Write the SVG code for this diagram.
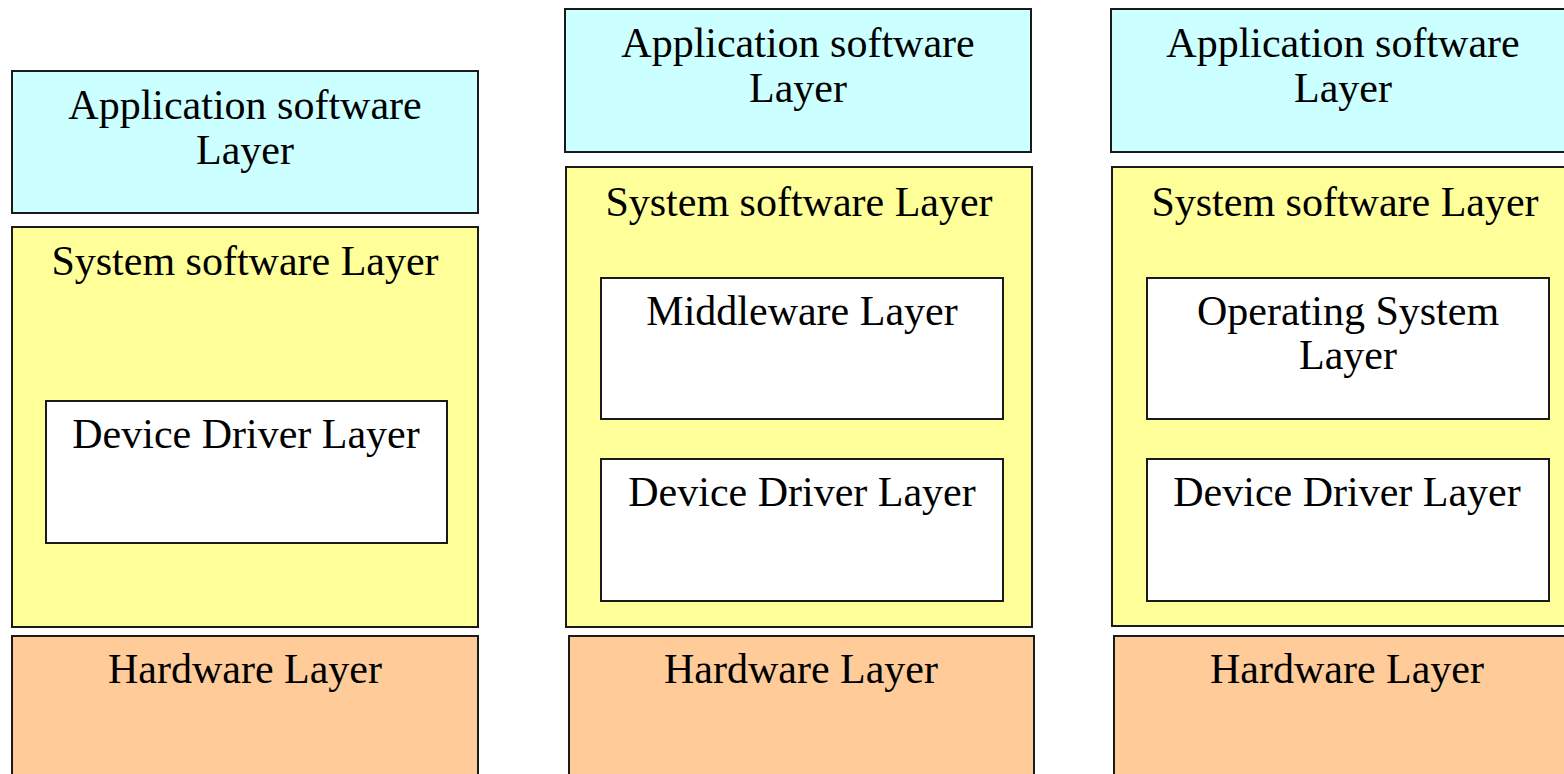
<svg xmlns="http://www.w3.org/2000/svg" width="1564" height="774" viewBox="0 0 1564 774">
<style>
rect{stroke:#1a1a1a;stroke-width:2}
.app{fill:#CCFFFF}
.sys{fill:#FFFF99}
.hw{fill:#FFCC99}
.in{fill:#FFFFFF}
text{font-family:"Liberation Serif","Times New Roman",serif;font-size:42px;fill:#000;text-anchor:middle}
</style>
<rect width="1564" height="774" fill="#fff" style="stroke:none"/>
<g id="col1">
<g id="app1"><rect class="app" x="12" y="71" width="466" height="142"/><text x="245" y="119">Application software</text><text x="245" y="164">Layer</text></g>
<g id="sys1"><rect class="sys" x="12" y="227" width="466" height="400"/><text x="245" y="275">System software Layer</text></g>
<g id="dd1"><rect class="in" x="46" y="401" width="401" height="142"/><text x="246" y="448">Device Driver Layer</text></g>
<g id="hw1"><rect class="hw" x="12" y="636" width="466" height="150"/><text x="245" y="683">Hardware Layer</text></g>
</g>
<g id="col2">
<g id="app2"><rect class="app" x="565" y="9" width="466" height="143"/><text x="798" y="57">Application software</text><text x="798" y="102">Layer</text></g>
<g id="sys2"><rect class="sys" x="566" y="167" width="466" height="460"/><text x="799" y="216">System software Layer</text></g>
<g id="mw2"><rect class="in" x="601" y="278" width="402" height="141"/><text x="802" y="325">Middleware Layer</text></g>
<g id="dd2"><rect class="in" x="601" y="459" width="402" height="142"/><text x="802" y="506">Device Driver Layer</text></g>
<g id="hw2"><rect class="hw" x="569" y="636" width="465" height="150"/><text x="801" y="683">Hardware Layer</text></g>
</g>
<g id="col3">
<g id="app3"><rect class="app" x="1111" y="9" width="466" height="143"/><text x="1343" y="57">Application software</text><text x="1343" y="102">Layer</text></g>
<g id="sys3"><rect class="sys" x="1112" y="167" width="466" height="459"/><text x="1345" y="216">System software Layer</text></g>
<g id="os3"><rect class="in" x="1147" y="278" width="402" height="141"/><text x="1348" y="325">Operating System</text><text x="1348" y="369">Layer</text></g>
<g id="dd3"><rect class="in" x="1147" y="459" width="402" height="142"/><text x="1347" y="506">Device Driver Layer</text></g>
<g id="hw3"><rect class="hw" x="1114" y="636" width="466" height="150"/><text x="1347" y="683">Hardware Layer</text></g>
</g>
<g id="connectors"></g>
</svg>
